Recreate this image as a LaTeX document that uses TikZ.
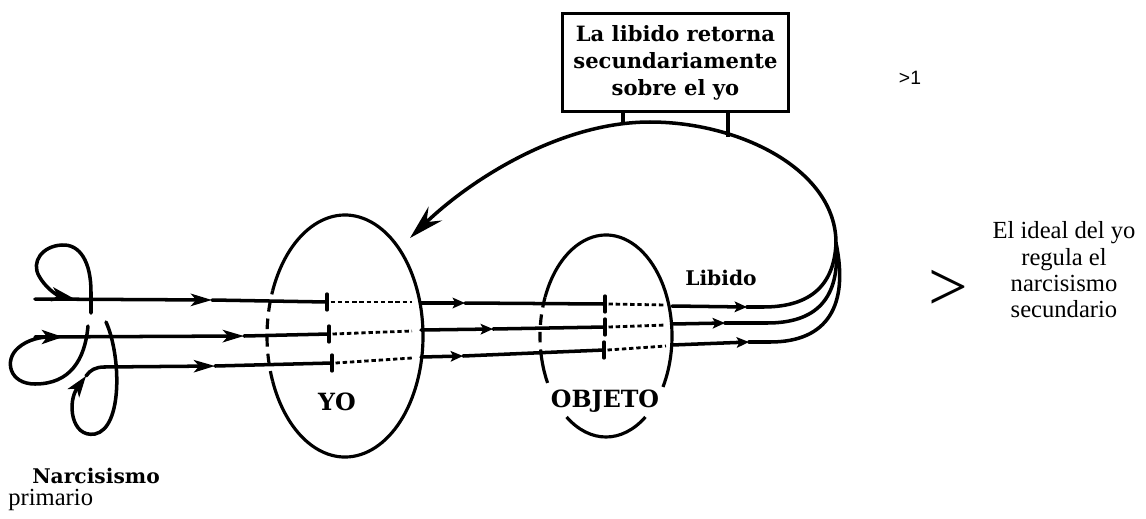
\documentclass[tikz,border=0pt]{standalone}
\usepackage{fontspec}
\setmainfont{Liberation Serif}
\newfontfamily\figfont{DejaVu Serif}
\newfontfamily\sansfnt{Liberation Sans}
\usetikzlibrary{arrows.meta}
\begin{document}
\begin{tikzpicture}[x=0.02cm,y=-0.02cm,
  line/.style={line width=2pt, line cap=round},
  looptip/.style={-{Stealth[length=12pt,width=8pt,inset=3pt]}},
  midtip/.style={-{Stealth[length=12pt,width=7pt,inset=3pt]}},
  smalltip/.style={-{Stealth[length=7pt,width=6pt,inset=1.5pt]}},
  bigtip/.style={-{Stealth[length=20pt,width=11pt,inset=7pt]}},
  dotline/.style={line width=1.6pt, dash pattern=on 2.5pt off 1.6pt},
  edge/.style={line width=1.8pt},
  edgedash/.style={line width=1.8pt, dash pattern=on 6pt off 4pt},
  lbl/.style={font=\figfont\bfseries\fontsize{11.5}{14}\selectfont, inner sep=0pt},
  biglbl/.style={font=\figfont\bfseries\fontsize{13.5}{15}\selectfont, inner sep=0pt},
  serif/.style={font=\fontsize{14}{15}\selectfont, inner sep=0pt, align=center},
]
\useasboundingbox (0,0) rectangle (1146,518);

% centres of the two ellipses
\coordinate (yo) at (345,336);
\coordinate (ob) at (606,336);

% YO ellipse
\draw[edge] ([shift={(202:78 and 121)}]yo) arc[start angle=202, end angle=518, x radius=78, y radius=121];
\draw[edgedash] ([shift={(158:78 and 121)}]yo) arc[start angle=158, end angle=202, x radius=78, y radius=121];

% OBJETO ellipse
\draw[edge] ([shift={(202.7:66 and 101)}]ob) arc[start angle=202.7, end angle=390.3, x radius=66, y radius=101];
\draw[edge] ([shift={(53.3:66 and 101)}]ob) arc[start angle=53.3, end angle=126.7, x radius=66, y radius=101];
\draw[edge] ([shift={(152.3:66 and 101)}]ob) arc[start angle=152.3, end angle=166.3, x radius=66, y radius=101];
\draw[edgedash] ([shift={(166.3:66 and 101)}]ob) arc[start angle=166.3, end angle=202.7, x radius=66, y radius=101];

% line coordinates
\coordinate (s1) at (35,299);  \coordinate (a1) at (212,300); \coordinate (t1) at (327,302);
\coordinate (d1) at (412,302); \coordinate (u1) at (421,303); \coordinate (b1) at (465,303);
\coordinate (v1) at (605,304); \coordinate (e1) at (666,305); \coordinate (w1) at (672,306);
\coordinate (c1) at (747,307); \coordinate (r1) at (763,307);

\coordinate (s2) at (35,337);  \coordinate (a2) at (244,336); \coordinate (t2) at (329,334);
\coordinate (d2) at (412,331); \coordinate (u2) at (421,330); \coordinate (b2) at (493,329);
\coordinate (v2) at (605,327); \coordinate (e2) at (666,325); \coordinate (w2) at (672,324);
\coordinate (c2) at (725,323); \coordinate (r2) at (767,323);

\coordinate (s3) at (104,367); \coordinate (a3) at (215,366); \coordinate (t3) at (332,363);
\coordinate (d3) at (412,358); \coordinate (u3) at (421,357); \coordinate (b3) at (463,356);
\coordinate (v3) at (604,350); \coordinate (e3) at (666,346); \coordinate (w3) at (672,345);
\coordinate (c3) at (749,342); \coordinate (r3) at (770,342);

\coordinate (j) at (836,243);
\coordinate (top) at (650,122);
\coordinate (tip) at (410,238);

% the three libido lines
\foreach \i in {1,2,3}{
  \draw[line, midtip] (s\i) -- (a\i);
  \draw[line] (a\i) -- (t\i);
  \draw[line] ([yshift=4.5pt]t\i) -- ([yshift=-4.5pt]t\i);
  \draw[dotline] ([xshift=2pt]t\i) -- (d\i);
  \draw[line, smalltip] (u\i) -- (b\i);
  \draw[line] (b\i) -- (v\i);
  \draw[line] ([yshift=4.5pt]v\i) -- ([yshift=-4.5pt]v\i);
  \draw[dotline] ([xshift=2pt]v\i) -- (e\i);
  \draw[line, smalltip] (w\i) -- (c\i);
  \draw[line] (c\i) -- (r\i);
}
\draw[line] (r1) .. controls (805,307) and (834,290) .. (j);
\draw[line] (r2) .. controls (815,323) and (841,300) .. (j);
\draw[line] (r3) .. controls (828,342) and (849,305) .. (j);

% returning curve
\draw[line, bigtip] (j) .. controls (836,170) and (740,122) .. (top)
  .. controls (560,122) and (470,180) .. (tip);

% primary narcissism loops
\coordinate (l1) at (91,313);
\coordinate (l2) at (88,326);
\coordinate (l3) at (106,322);
\coordinate (k3) at (86,376);
\draw[line, looptip] (l1) -- (91,292) .. controls (91,262) and (80,244) .. (62,245)
  .. controls (42,246) and (31,262) .. (39,276) .. controls (45,287) and (56,295) .. (73,298);
\draw[line, looptip] (l2) .. controls (85,360) and (70,384) .. (35,384)
  .. controls (9,384) and (4,360) .. (18,348) .. controls (28,339) and (42,337) .. (63,337);
\draw[line, looptip] (l3) .. controls (121,355) and (123,428) .. (95,434)
  .. controls (71,438) and (67,402) .. (k3);
\draw[line] (k3) .. controls (90,370) and (96,367) .. (s3);

% box
\node[draw, line width=1.8pt, minimum width=128.7pt, minimum height=56.1pt, inner sep=0pt,
  align=center, font=\figfont\bfseries\fontsize{12}{15.3}\selectfont] (box) at (675.5,62.5)
  {La libido retorna\\secundariamente\\sobre el yo};
\coordinate (p1) at (623,124);
\coordinate (p2) at (728,137);
\draw[edge] (box.south -| p1) -- (p1);
\draw[edge] (box.south -| p2) -- (p2);

% labels
\node[biglbl] (yolbl) at (337,402) {YO};
\node[biglbl] (oblbl) at (605,401) {OBJETO};
\node[lbl, anchor=base] (libido) at (721,285) {Libido};
\node[lbl, anchor=base] (narc) at (96,483) {Narcisismo};
\node[serif, anchor=base west] (prim) at (8,505) {primario};
\node[serif] (ideal) at (1064,270) {El ideal del yo\\regula el\\narcisismo\\secundario};
\node[inner sep=0pt, font=\sansfnt\fontsize{11}{12}\selectfont] (gt1) at (910,78) {>1};
\node[inner sep=0pt, font=\fontsize{40}{40}\selectfont] (gt) at (948,290) {>};
\end{tikzpicture}
\end{document}
